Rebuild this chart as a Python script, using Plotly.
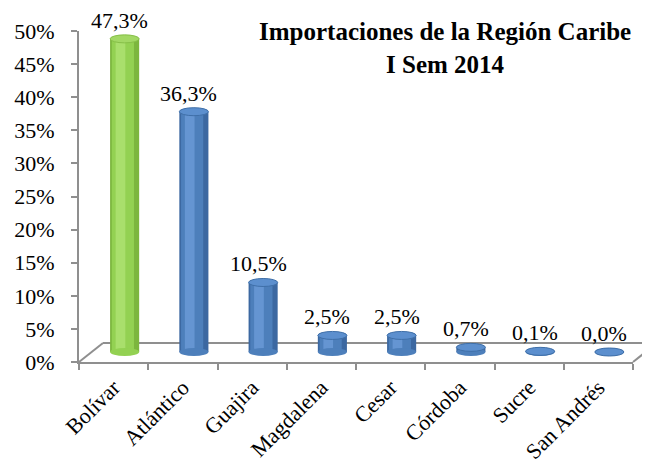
import plotly.graph_objects as go

# ---- data ----
categories = ["Bolívar", "Atlántico", "Guajira", "Magdalena", "Cesar", "Córdoba", "Sucre", "San Andrés"]
shares = [0.473, 0.363, 0.105, 0.025, 0.025, 0.007, 0.001, 0.000]
y_tick_vals = [0, 0.05, 0.10, 0.15, 0.20, 0.25, 0.30, 0.35, 0.40, 0.45, 0.50]
y_tick_text = ["0%", "5%", "10%", "15%", "20%", "25%", "30%", "35%", "40%", "45%", "50%"]
title_text = "<b>Importaciones de la Región Caribe<br>I Sem 2014</b>"

FONT = "Liberation Serif"
PAGE_OFF = 8  # default body margin of the html page
W, H = 650 - PAGE_OFF, 476 - PAGE_OFF
L, R, T, B = 79 - PAGE_OFF, 17, 31 - PAGE_OFF, 114
plot_w = W - L - R
plot_h = H - T - B
n = len(categories)
cat_px = plot_w / n
ymax = 0.5
px_per_unit = plot_h / ymax

# depth offsets (bars sit mid-depth of the 3D floor)
dx_px, dy_px = 11, 10
dx = dx_px / cat_px
dy = dy_px / px_per_unit

def fmt(v):
    return f"{v*100:.1f}".replace(".", ",") + "%"

def palette(i):
    if i == 0:
        return dict(dark="#7cb63e", mid="#93d152", light="#a9df6c", top="#a2d864", edge="#86bf48")
    return dict(dark="#3c68a1", mid="#4d7fbb", light="#6595d2", top="#5c8fce", edge="#3f6fa8")

fig = go.Figure()
xs = list(range(n))
bw = 0.42
layers = [("dark", bw, 0.0), ("mid", 0.32, -0.025), ("light", 0.14, -0.06)]
for key, w, shift in layers:
    fig.add_trace(go.Bar(
        x=xs, y=shares, xaxis="x2", yaxis="y2",
        width=w, offset=-w / 2 + shift,
        marker=dict(color=[palette(i)[key] for i in xs], line=dict(width=0)),
        hoverinfo="skip", showlegend=False,
    ))

shapes = []
eh = 4 / px_per_unit
for i, v in enumerate(shares):
    p = palette(i)
    shapes.append(dict(type="circle", xref="x2", yref="y2",
                       x0=i - bw / 2, x1=i + bw / 2, y0=-eh, y1=eh,
                       fillcolor=p["mid"], line=dict(width=0), layer="above"))
    shapes.append(dict(type="circle", xref="x2", yref="y2",
                       x0=i - bw / 2, x1=i + bw / 2, y0=v - eh, y1=v + eh,
                       fillcolor=p["top"], line=dict(width=1, color=p["edge"]), layer="above"))

# 3D floor outline (paper coords of plot area)
depth_x = 24 / plot_w
depth_y = 19 / plot_h
floor_col = "#8f8f8f"
shapes += [
    dict(type="line", xref="paper", yref="paper", x0=0, y0=0, x1=depth_x, y1=depth_y,
         line=dict(color=floor_col, width=2), layer="below"),
    dict(type="line", xref="paper", yref="paper", x0=depth_x, y0=depth_y, x1=1 + depth_x, y1=depth_y,
         line=dict(color=floor_col, width=2), layer="below"),
    dict(type="line", xref="paper", yref="paper", x0=1, y0=0, x1=1 + depth_x, y1=depth_y,
         line=dict(color=floor_col, width=2), layer="below"),
]

annotations = []
for i, v in enumerate(shares):
    annotations.append(dict(x=i, y=v, xref="x2", yref="y2", text=fmt(v), showarrow=False,
                            yanchor="bottom", xanchor="center", yshift=5, xshift=-5,
                            borderpad=0,
                            font=dict(family=FONT, size=22, color="#000000")))
annotations.append(dict(x=(445 - 79) / plot_w, y=(362 - 16) / plot_h, xref="paper", yref="paper",
                        text=title_text, showarrow=False, xanchor="center", yanchor="top",
                        align="center", font=dict(family=FONT, size=25, color="#000000")))

fig.update_layout(
    width=W, height=H,
    margin=dict(l=L, r=R, t=T, b=B, autoexpand=False),
    paper_bgcolor="white", plot_bgcolor="rgba(0,0,0,0)",
    barmode="overlay",
    shapes=shapes, annotations=annotations,
    xaxis=dict(type="category", categoryorder="array", categoryarray=categories,
               range=[-0.5, n - 0.5], tickmode="array", tickvals=categories, ticktext=categories,
               tickangle=-45, tickson="boundaries", ticks="outside", ticklen=6, tickcolor=floor_col,
               tickwidth=2, showline=True, linecolor=floor_col, linewidth=2,
               showgrid=False, zeroline=False, fixedrange=True, ticklabelstandoff=2,
               tickfont=dict(family=FONT, size=22, color="#000000")),
    yaxis=dict(range=[0, ymax], tickmode="array", tickvals=y_tick_vals, ticktext=y_tick_text,
               ticks="outside", ticklen=6, tickcolor=floor_col, tickwidth=2,
               showline=True, linecolor=floor_col, linewidth=2, showgrid=False, zeroline=False,
               ticklabelstandoff=12,
               tickfont=dict(family=FONT, size=22, color="#000000")),
    xaxis2=dict(overlaying="x", range=[-0.5 - dx, n - 0.5 - dx], visible=False, fixedrange=True),
    yaxis2=dict(overlaying="y", range=[-dy, ymax - dy], visible=False, fixedrange=True),
)

fig.add_trace(go.Scatter(x=categories, y=[None] * n, xaxis="x", yaxis="y",
                         mode="markers", showlegend=False, hoverinfo="skip"))

fig.write_html("out.html")
